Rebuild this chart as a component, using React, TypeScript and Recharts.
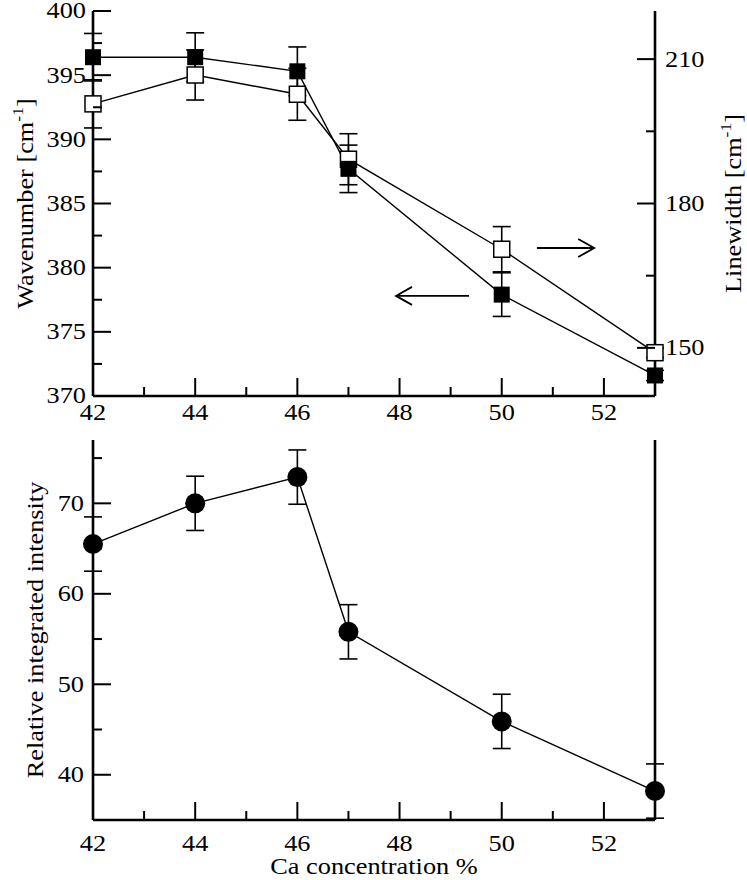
import React from "react";
import { LineChart, Line, XAxis, YAxis, ErrorBar, ReferenceLine } from "recharts";

// Ca concentration (%) shared by both panels
const concentration = [42, 44, 46, 47, 50, 53];
// top panel, filled squares (left axis)
const wavenumber = [396.4, 396.4, 395.3, 387.7, 377.9, 371.6];
const wavenumberErr = [1.85, 1.9, 1.9, 1.85, 1.7, 0.4];
// top panel, open squares (right axis)
const linewidth = [200.7, 206.7, 202.7, 189.2, 170.5, 149.0];
const linewidthErr = [5.0, 5.2, 5.4, 5.3, 4.7, 1.0];
// bottom panel, filled circles
const intensity = [65.5, 70.0, 72.9, 55.8, 45.9, 38.2];
const intensityErr = [3, 3, 3, 3, 3, 3];

const xMajor = [42, 44, 46, 48, 50, 52];
const xAll = [42, 43, 44, 45, 46, 47, 48, 49, 50, 51, 52];
const wnMajor = [370, 375, 380, 385, 390, 395, 400];
const wnAll = [370, 372.5, 375, 377.5, 380, 382.5, 385, 387.5, 390, 392.5, 395, 397.5, 400];
const lwMajor = [150, 180, 210];
const lwAll = [150, 165, 180, 195, 210];
const riMajor = [40, 50, 60, 70];
const riAll = [40, 45, 50, 55, 60, 65, 70, 75];

// arrows pointing to the axis each series belongs to
const leftArrow = [{ x: 49.36, y: 377.8 }, { x: 47.93, y: 377.8 }];
const rightArrow = [{ x: 50.69, y: 170.75 }, { x: 51.81, y: 170.75 }];

const topRows = concentration.map((x, i) => ({
  x,
  wn: wavenumber[i],
  wnErr: wavenumberErr[i],
  lw: linewidth[i],
  lwErr: linewidthErr[i],
}));
const bottomRows = concentration.map((x, i) => ({ x, ri: intensity[i], riErr: intensityErr[i] }));

const FONT = "Liberation Serif, DejaVu Serif, Times New Roman, serif";
const FS = 22.5;
const STRETCH = 1.17;
const txt = { fontFamily: FONT, fontSize: FS, fill: "#000", stroke: "none" };

type Side = "left" | "right" | "top" | "bottom";

// draws the inward tick mark and (optionally) its label at the axis line position
const makeTick = (side: Side, major: number[], labels: boolean, gap: number) => (props: any) => {
  const { x, y, payload } = props;
  const isMajor = major.includes(payload.value);
  const len = isMajor ? 18 : 9;
  let x2 = x;
  let y2 = y;
  if (side === "left") x2 = x + len;
  else if (side === "right") x2 = x - len;
  else if (side === "bottom") y2 = y - len;
  else y2 = y + len;
  let label = null;
  if (labels && isMajor) {
    let tx = x;
    let ty = y;
    let anchor: "start" | "middle" | "end" = "middle";
    let dy = "0";
    if (side === "left") { tx = x - gap; anchor = "end"; dy = "0.33em"; }
    else if (side === "right") { tx = x + gap; anchor = "start"; dy = "0.33em"; }
    else if (side === "bottom") { ty = y + gap; }
    label = (
      <g transform={`translate(${tx},${ty}) scale(${STRETCH},1)`}>
        <text x={0} y={0} dy={dy} textAnchor={anchor} style={txt}>
          {payload.value}
        </text>
      </g>
    );
  }
  return (
    <g>
      <line x1={x} y1={y} x2={x2} y2={y2} style={{ stroke: "#000", strokeWidth: 2 }} />
      {label}
    </g>
  );
};

const axisLine = { stroke: "#000", strokeWidth: 2.6 };

// rotated axis title, cx = baseline position
const VTitle = ({ cx, cy, text, sup }: { cx: number; cy: number; text: string; sup?: boolean }) => (
  <text transform={`translate(${cx},${cy}) rotate(-90) scale(${STRETCH},1)`} textAnchor="middle" style={txt}>
    {sup ? (
      <>
        {text} [cm
        <tspan dy={-10} style={{ fontSize: 15 }}>-1</tspan>
        <tspan dy={10}>]</tspan>
      </>
    ) : (
      text
    )}
  </text>
);

const squareDot = (filled: boolean) => (props: any) => {
  const { cx, cy, index } = props;
  if (cx == null || cy == null) return <g key={`s${index}`} />;
  return (
    <rect
      key={`s${index}`}
      x={cx - 8}
      y={cy - 8}
      width={16}
      height={16}
      fill={filled ? "#000" : "#fff"}
      stroke="#000"
      strokeWidth={filled ? 0 : 1.5}
    />
  );
};

const circleDot = (props: any) => {
  const { cx, cy, index } = props;
  if (cx == null || cy == null) return <g key={`c${index}`} />;
  return <circle key={`c${index}`} cx={cx} cy={cy} r={10} fill="#000" />;
};

const arrowShape = (props: any) => {
  const { x1, y1, x2, y2 } = props;
  const dir = Math.sign(x2 - x1);
  return (
    <g stroke="#000" strokeWidth={1.8} fill="none">
      <line x1={x1} y1={y1} x2={x2} y2={y2} />
      <path d={`M${x2 - dir * 16},${y2 - 9} L${x2},${y2} L${x2 - dir * 16},${y2 + 9}`} />
    </g>
  );
};

function TopPanel() {
  return (
    <LineChart width={747} height={426} data={topRows} margin={{ top: 11, right: 0, bottom: 0, left: 0 }}>
      <XAxis
        xAxisId="x"
        dataKey="x"
        type="number"
        domain={[42, 53]}
        ticks={xAll}
        interval={0}
        height={30}
        tickSize={0}
        tickMargin={0}
        tickLine={false}
        axisLine={axisLine}
        tick={makeTick("bottom", xMajor, true, 24)}
      />
      <XAxis
        xAxisId="xt"
        orientation="top"
        type="number"
        domain={[42, 53]}
        ticks={xAll}
        interval={0}
        height={0}
        tickSize={0}
        tickMargin={0}
        tickLine={false}
        axisLine={axisLine}
        tick={makeTick("top", xMajor, false, 0)}
      />
      <YAxis
        yAxisId="left"
        domain={[370, 400]}
        ticks={wnAll}
        interval={0}
        width={93}
        tickSize={0}
        tickMargin={0}
        tickLine={false}
        axisLine={axisLine}
        tick={makeTick("left", wnMajor, true, 7)}
        label={{ content: (p: any) => <VTitle cx={33} cy={(p?.viewBox?.y ?? 11) + (p?.viewBox?.height ?? 385) / 2} text="Wavenumber" sup /> }}
      />
      <YAxis
        yAxisId="right"
        orientation="right"
        domain={[140, 220]}
        ticks={lwAll}
        interval={0}
        width={92}
        tickSize={0}
        tickMargin={0}
        tickLine={false}
        axisLine={axisLine}
        tick={makeTick("right", lwMajor, true, 10)}
        label={{ content: (p: any) => <VTitle cx={741} cy={(p?.viewBox?.y ?? 11) + (p?.viewBox?.height ?? 385) / 2} text="Linewidth" sup /> }}
      />
      <ReferenceLine xAxisId="x" yAxisId="left" segment={leftArrow} shape={arrowShape} />
      <ReferenceLine xAxisId="x" yAxisId="right" segment={rightArrow} shape={arrowShape} />
      <Line
        xAxisId="x"
        yAxisId="right"
        dataKey="lw"
        type="linear"
        stroke="#000"
        strokeWidth={1.4}
        dot={squareDot(false)}
        activeDot={false}
        isAnimationActive={false}
      >
        <ErrorBar dataKey="lwErr" direction="y" width={9} stroke="#000" strokeWidth={1.6} />
      </Line>
      <Line
        xAxisId="x"
        yAxisId="left"
        dataKey="wn"
        type="linear"
        stroke="#000"
        strokeWidth={1.4}
        dot={squareDot(true)}
        activeDot={false}
        isAnimationActive={false}
      >
        <ErrorBar dataKey="wnErr" direction="y" width={9} stroke="#000" strokeWidth={1.6} />
      </Line>
    </LineChart>
  );
}

function BottomPanel() {
  return (
    <LineChart width={747} height={454} data={bottomRows} margin={{ top: 14, right: 0, bottom: 0, left: 0 }}>
      <XAxis
        xAxisId="x"
        dataKey="x"
        type="number"
        domain={[42, 53]}
        ticks={xAll}
        interval={0}
        height={60}
        tickSize={0}
        tickMargin={0}
        tickLine={false}
        axisLine={axisLine}
        tick={makeTick("bottom", xMajor, true, 31)}
        label={{
          content: (p: any) => (
            <g transform={`translate(${(p?.viewBox?.x ?? 93) + (p?.viewBox?.width ?? 562) / 2},${(p?.viewBox?.y ?? 394) + 54}) scale(${STRETCH},1)`}>
              <text x={0} y={0} textAnchor="middle" style={txt}>
                Ca concentration %
              </text>
            </g>
          ),
        }}
      />
      <XAxis
        xAxisId="xt"
        orientation="top"
        type="number"
        domain={[42, 53]}
        ticks={xAll}
        interval={0}
        height={0}
        tickSize={0}
        tickMargin={0}
        tickLine={false}
        axisLine={axisLine}
        tick={makeTick("top", xMajor, false, 0)}
      />
      <YAxis
        yAxisId="left"
        domain={[35, 77]}
        ticks={riAll}
        interval={0}
        width={93}
        tickSize={0}
        tickMargin={0}
        tickLine={false}
        axisLine={axisLine}
        tick={makeTick("left", riMajor, true, 9)}
        label={{ content: (p: any) => <VTitle cx={43} cy={(p?.viewBox?.y ?? 14) + (p?.viewBox?.height ?? 380) / 2} text="Relative integrated intensity" /> }}
      />
      <YAxis
        yAxisId="rm"
        orientation="right"
        domain={[35, 77]}
        ticks={riAll}
        interval={0}
        width={92}
        tickSize={0}
        tickMargin={0}
        tickLine={false}
        axisLine={axisLine}
        tick={makeTick("right", riMajor, false, 0)}
      />
      <Line
        xAxisId="x"
        yAxisId="left"
        dataKey="ri"
        type="linear"
        stroke="#000"
        strokeWidth={1.4}
        dot={circleDot}
        activeDot={false}
        isAnimationActive={false}
      >
        <ErrorBar dataKey="riErr" direction="y" width={9} stroke="#000" strokeWidth={1.6} />
      </Line>
    </LineChart>
  );
}

export default function App() {
  return (
    <div style={{ position: "absolute", left: 0, top: 0, width: 747, height: 880, background: "#fff", fontFamily: FONT }}>
      <div style={{ position: "absolute", left: 0, top: 0 }}>
        <TopPanel />
      </div>
      <div style={{ position: "absolute", left: 0, top: 426 }}>
        <BottomPanel />
      </div>
    </div>
  );
}
